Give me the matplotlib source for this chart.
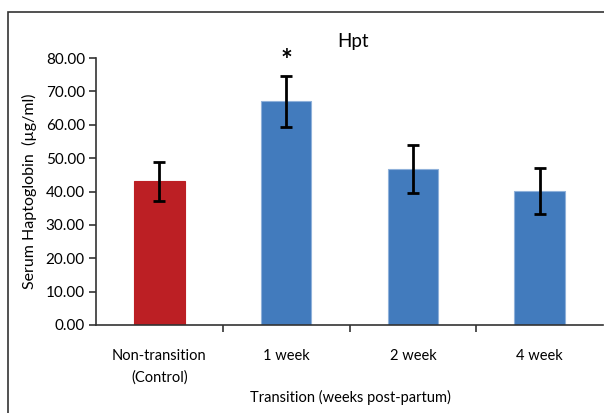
import matplotlib
matplotlib.use("Agg")
import matplotlib.pyplot as plt
from matplotlib.patches import Rectangle

categories = ["Non-transition\n(Control)", "1 week", "2 week", "4 week"]
means = [43.0, 67.0, 46.7, 40.1]
errors = [5.7, 7.7, 7.1, 6.9]
colors = ["#BC1F24", "#427BBD", "#427BBD", "#427BBD"]
edge_colors = ["#BC1F24", "#8FB1DA", "#8FB1DA", "#8FB1DA"]
y_ticks = [0, 10, 20, 30, 40, 50, 60, 70, 80]

plt.rcParams["font.family"] = ["Lato", "DejaVu Sans"]

fig = plt.figure(figsize=(6.04, 4.13), dpi=100)

# outer chart frame (runs off the right and bottom edges)
fig.patches.append(Rectangle((8 / 604, -0.05), 1.2, 1 - 12 / 413 + 0.05,
                             transform=fig.transFigure, fill=False,
                             edgecolor="#333333", linewidth=1.2))

ax = fig.add_axes([96 / 604, 1 - 325 / 413, 507 / 604, (325 - 58) / 413])
x = list(range(len(categories)))
ax.bar(x, means, width=0.40, color=colors, edgecolor=edge_colors, linewidth=0.8, zorder=2)
ax.errorbar(x, means, yerr=errors, fmt="none", ecolor="black", elinewidth=2,
            capsize=4, capthick=2, zorder=3)

ax.set_xlim(-0.5, 3.5)
ax.set_ylim(0, 80)
ax.set_yticks(y_ticks)
ax.set_yticklabels([f"{v:.2f}" for v in y_ticks], fontsize=11)

ax.set_xticks(x)
ax.set_xticklabels(categories, fontsize=10.5, linespacing=1.7)
ax.tick_params(axis="x", which="major", length=0, pad=17)
ax.set_xticks([0.5, 1.5, 2.5], minor=True)
ax.tick_params(axis="x", which="minor", length=5, width=1.2, color="#333333", direction="out")
ax.tick_params(axis="y", length=5, width=1.2, color="#333333", direction="out", pad=3)

for s in ["top", "right"]:
    ax.spines[s].set_visible(False)
for s in ["left", "bottom"]:
    ax.spines[s].set_color("#333333")
    ax.spines[s].set_linewidth(1.2)

ax.set_ylabel("Serum Haptoglobin  (\u00b5g/ml)", fontsize=11.5, labelpad=6)
ax.set_xlabel("Transition (weeks post-partum)", fontsize=10.5)
ax.xaxis.set_label_coords((350 - 96) / 507, -0.245)

fig.text(353 / 604, 1 - 41 / 413, "Hpt", ha="center", va="center", fontsize=13.5)
ax.text(x[1], 79.2, "*", ha="center", va="center", fontsize=20, fontweight="bold")

fig.savefig("out.png", dpi=100)
